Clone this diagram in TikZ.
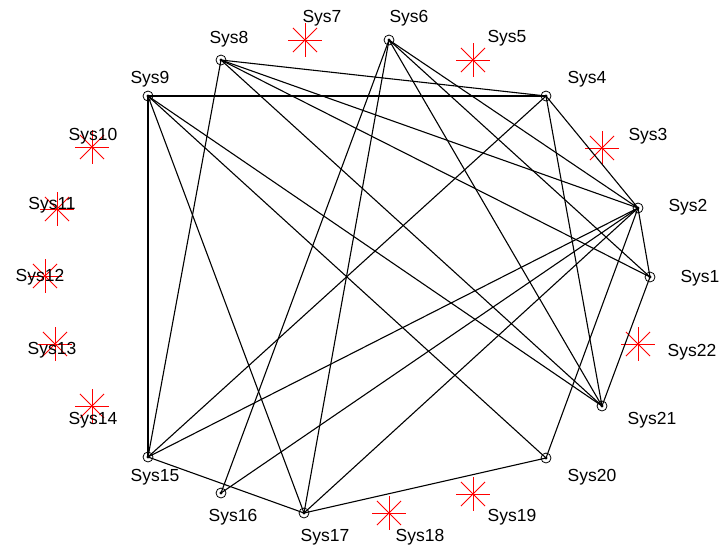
\documentclass[tikz,border=0pt]{standalone}
\usepackage{fontspec}
\setmainfont{Liberation Sans}
\begin{document}
\begin{tikzpicture}[x=1pt,y=-1pt,
  sysnode/.style={circle,draw=black,line width=0.8pt,minimum size=10pt,inner sep=0pt,
    path picture={\fill[black] (path picture bounding box.center) circle (1.6pt);}},
  edge/.style={draw=black,line width=1.1pt},
  lbl/.style={font=\fontsize{17.5}{17.5}\selectfont,text=black,inner sep=0pt},
  starmark/.pic={\foreach \a in {0,45,...,315}{\draw[red,line width=1pt] (0,0) -- (\a:17);}}
]
\useasboundingbox (0,0) rectangle (720,550);
\fill[white] (0,0) rectangle (720,550);
% stars (systems without links)
\foreach \n/\x/\y in {s3/602/148, s5/473/60, s7/305/40, s10/92/147, s11/57/209, s12/45/276,
  s13/55/344, s14/92/406, s18/389/513, s19/473/494, s22/638/344}{
  \coordinate (\n) at (\x,\y);
  \pic at (\n) {starmark};
}
% linked systems
\node[sysnode] (n1) at (650,277) {};
\node[sysnode] (n2) at (638,208) {};
\node[sysnode] (n4) at (546,96) {};
\node[sysnode] (n6) at (389,40) {};
\node[sysnode] (n8) at (221,60) {};
\node[sysnode] (n9) at (148,96) {};
\node[sysnode] (n15) at (148,457) {};
\node[sysnode] (n16) at (221,493) {};
\node[sysnode] (n17) at (304,513) {};
\node[sysnode] (n20) at (546,458) {};
\node[sysnode] (n21) at (602,406) {};
% connectors
\foreach \a/\b in {9/4, 9/15, 9/17, 9/21, 9/20,
  8/4, 8/2, 8/1, 8/21, 8/15,
  6/2, 6/1, 6/21, 6/16, 6/17,
  4/2, 4/21, 4/15,
  2/1, 2/15, 2/16, 2/17, 2/20,
  1/21, 15/17, 17/20}{
  \draw[edge] (n\a.center) -- (n\b.center);
}
% labels
\node[lbl] (l1) at (700,278) {Sys1};
\node[lbl] (l2) at (688,207) {Sys2};
\node[lbl] (l3) at (648,136) {Sys3};
\node[lbl] (l4) at (587,79) {Sys4};
\node[lbl] (l5) at (507,38) {Sys5};
\node[lbl] (l6) at (409,18) {Sys6};
\node[lbl] (l7) at (322,18) {Sys7};
\node[lbl] (l8) at (229,39) {Sys8};
\node[lbl] (l9) at (150,79) {Sys9};
\node[lbl] (l10) at (93,136) {Sys10};
\node[lbl] (l11) at (52,205) {Sys11};
\node[lbl] (l12) at (40,277) {Sys12};
\node[lbl] (l13) at (52,350) {Sys13};
\node[lbl] (l14) at (93,420) {Sys14};
\node[lbl] (l15) at (155,477) {Sys15};
\node[lbl] (l16) at (233,517) {Sys16};
\node[lbl] (l17) at (325,537) {Sys17};
\node[lbl] (l18) at (420,537) {Sys18};
\node[lbl] (l19) at (512,517) {Sys19};
\node[lbl] (l20) at (592,477) {Sys20};
\node[lbl] (l21) at (652,420) {Sys21};
\node[lbl] (l22) at (692,352) {Sys22};
\end{tikzpicture}
\end{document}
